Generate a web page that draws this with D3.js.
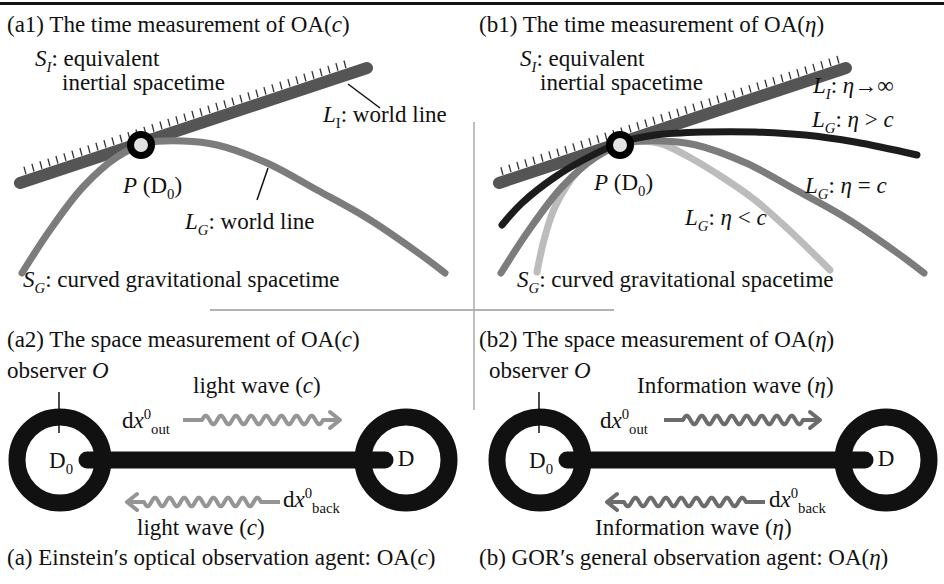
<!DOCTYPE html>
<html>
<head>
<meta charset="utf-8">
<script src="https://cdn.jsdelivr.net/npm/d3@7"></script>
<style>
  html, body { margin: 0; padding: 0; background: #fff; }
  svg { display: block; }
</style>
</head>
<body>
<svg width="944" height="584"></svg>
<script>
// world lines, relative to the event P (x right = space, y up = time)
var inertialLine = [[-121, -38], [226, 77]];
var worldLineC = [[-119, -128], [-91, -85], [-58, -42], [-24, -12], [6, 2], [42, 4], [76, 0],
                  [126, -18], [176, -45], [226, -73], [276, -107], [304, -128]];
var worldLineFast = [[-118, -80], [-98, -58], [-65, -32], [-31, -12], [2, 3], [35, 10], [85, 13],
                     [135, 13], [185, 10], [235, 3], [297, -10]];
var worldLineSlow = [[-83, -127], [-76, -95], [-65, -62], [-41, -25], [-15, -5], [12, 3], [39, 2],
                     [69, -12], [102, -32], [135, -55], [169, -85], [210, -125]];
var hatchA = [-113, 214], hatchB = [-115, 222];

var svg = d3.select("svg"),
    width = +svg.attr("width"),
    height = +svg.attr("height");
var serif = "'Liberation Serif', 'Times New Roman', serif",
    fs = 23;

svg.append("rect").attr("width", width).attr("height", height).attr("fill", "#fff");

// frame + dividers
svg.append("line").attr("x1", 0).attr("x2", width).attr("y1", 3.5).attr("y2", 3.5)
    .attr("stroke", "#111").attr("stroke-width", 3);
svg.append("line").attr("x1", 210).attr("x2", 614).attr("y1", 310).attr("y2", 310)
    .attr("stroke", "#999").attr("stroke-width", 1.5);
svg.append("line").attr("x1", 474).attr("x2", 474).attr("y1", 122).attr("y2", 410)
    .attr("stroke", "#aaa").attr("stroke-width", 1.5);

// rich text: parts = {t, i (italic), sub, sup}
function rich(x, y, parts, size, anchor) {
    size = size || fs;
    var t = svg.append("text").attr("x", x).attr("y", y)
        .attr("font-family", serif).attr("font-size", size).attr("fill", "#111")
        .attr("text-anchor", anchor || "start");
    var shift = 0;
    parts.forEach(function (p) {
        if (typeof p === "string") p = {t: p};
        var target = p.sub ? size * 0.26 : p.sup ? -size * 0.38 : 0;
        var s = t.append("tspan").attr("dy", target - shift).text(p.t);
        shift = target;
        if (p.i) s.attr("font-style", "italic");
        if (p.sub || p.sup) s.attr("font-size", size * 0.64);
    });
    return t;
}

function panelScales(px, py) {
    return {
        x: d3.scaleLinear().domain([0, 100]).range([px, px + 100]),
        y: d3.scaleLinear().domain([0, 100]).range([py, py - 100])
    };
}

function timePanel(px, py, curves, hatch) {
    var s = panelScales(px, py);
    var line = d3.line().x(function (d) { return s.x(d[0]); }).y(function (d) { return s.y(d[1]); })
        .curve(d3.curveCatmullRom.alpha(0.5));

    // hatching on the inertial spacetime side
    var a = inertialLine[0], b = inertialLine[1];
    var p0 = [s.x(a[0]), s.y(a[1])], p1 = [s.x(b[0]), s.y(b[1])];
    var len = Math.hypot(p1[0] - p0[0], p1[1] - p0[1]);
    var ux = (p1[0] - p0[0]) / len, uy = (p1[1] - p0[1]) / len;
    var nx = uy, ny = -ux; // normal pointing up-left
    var ticks = d3.range(hatch[0], hatch[1], 8);
    svg.append("g").selectAll("line").data(ticks).enter().append("line")
        .each(function (tx) {
            var t = (tx - a[0]) / (b[0] - a[0]);
            var cx = s.x(tx), cy = s.y(a[1] + t * (b[1] - a[1]));
            d3.select(this)
                .attr("x1", cx + nx * 6.5).attr("y1", cy + ny * 6.5)
                .attr("x2", cx + nx * 14.5 + 0.5).attr("y2", cy + ny * 14.5);
        })
        .attr("stroke", "#333").attr("stroke-width", 1.3);

    svg.append("path").attr("d", line(inertialLine))
        .attr("fill", "none").attr("stroke", "#555").attr("stroke-width", 12)
        .attr("stroke-linecap", "round");

    curves.forEach(function (c) {
        svg.append("path").attr("d", line(c.data))
            .attr("fill", "none").attr("stroke", c.color).attr("stroke-width", 7)
            .attr("stroke-linecap", "round");
    });

    svg.append("circle").attr("cx", s.x(0)).attr("cy", s.y(0)).attr("r", 10.5)
        .attr("fill", "#e2e2e2").attr("stroke", "#000").attr("stroke-width", 7);
    return s;
}

// ---------- (a1)
timePanel(141, 145, [{data: worldLineC, color: "#7c7c7c"}], hatchA);
rich(7, 32, ["(a1) The time measurement of OA(", {t: "c", i: true}, ")"]);
rich(35, 66, [{t: "S", i: true}, {t: "I", i: true, sub: true}, ": equivalent"]);
rich(62, 90, ["inertial spacetime"]);
svg.append("line").attr("x1", 348).attr("y1", 84).attr("x2", 380).attr("y2", 108)
    .attr("stroke", "#111").attr("stroke-width", 1.5);
rich(323, 122, [{t: "L", i: true}, {t: "I", sub: true}, ": world line"]);
svg.append("line").attr("x1", 268).attr("y1", 168).attr("x2", 257).attr("y2", 200)
    .attr("stroke", "#111").attr("stroke-width", 1.5);
rich(185, 229, [{t: "L", i: true}, {t: "G", i: true, sub: true}, ":  world line"]);
rich(123, 193, [{t: "P", i: true}, " (D", {t: "0", sub: true}, ")"]);
rich(23, 287, [{t: "S", i: true}, {t: "G", i: true, sub: true}, ": curved gravitational spacetime"]);

// ---------- (b1)
timePanel(620, 145, [
    {data: worldLineSlow, color: "#bcbcbc"},
    {data: worldLineC, color: "#7c7c7c"},
    {data: worldLineFast, color: "#1c1c1c"}
], hatchB);
rich(479, 32, ["(b1) The time measurement of OA(", {t: "η", i: true}, ")"]);
rich(520, 66, [{t: "S", i: true}, {t: "I", i: true, sub: true}, ": equivalent"]);
rich(540, 90, ["inertial spacetime"]);
rich(813, 93, [{t: "L", i: true}, {t: "I", i: true, sub: true}, ":  ", {t: "η", i: true}, "→∞"]);
rich(812, 127, [{t: "L", i: true}, {t: "G", i: true, sub: true}, ":  ", {t: "η", i: true}, " > ", {t: "c", i: true}]);
rich(805, 193, [{t: "L", i: true}, {t: "G", i: true, sub: true}, ":   ", {t: "η", i: true}, " = ", {t: "c", i: true}]);
rich(685, 225, [{t: "L", i: true}, {t: "G", i: true, sub: true}, ":   ", {t: "η", i: true}, " < ", {t: "c", i: true}]);
rich(594, 190, [{t: "P", i: true}, " (D", {t: "0", sub: true}, ")"]);
rich(517, 287, [{t: "S", i: true}, {t: "G", i: true, sub: true}, ": curved gravitational spacetime"]);

// ---------- space measurement panels
function wave(tail, head, y, color) {
    var dir = head > tail ? 1 : -1;
    var straight = 19, headLen = 17, periods = 8;
    var w0 = tail + dir * straight, w1 = head - dir * headLen;
    var amp = 4.3, n = 200;
    var pts = [[tail, y], [w0, y]];
    d3.range(n + 1).forEach(function (i) {
        var f = i / n;
        pts.push([w0 + (w1 - w0) * f, y - amp * Math.sin(f * periods * 2 * Math.PI)]);
    });
    pts.push([head, y]);
    var g = svg.append("g");
    g.append("path").attr("d", d3.line()(pts)).attr("fill", "none")
        .attr("stroke", color).attr("stroke-width", 4).attr("stroke-linejoin", "round");
    g.append("path").attr("d", d3.line()([[head - dir * 10, y - 8], [head, y], [head - dir * 10, y + 8]]))
        .attr("fill", "none").attr("stroke", color).attr("stroke-width", 4)
        .attr("stroke-linecap", "round").attr("stroke-linejoin", "round");
}

function spacePanel(ox, waveColor, topWave, botWave) {
    var cy = 460, lx = ox + 60, rx = ox + 406;
    svg.append("line").attr("x1", lx + 27).attr("x2", rx - 21).attr("y1", cy).attr("y2", cy)
        .attr("stroke", "#111").attr("stroke-width", 17).attr("stroke-linecap", "round");
    [lx, rx].forEach(function (cx) {
        svg.append("circle").attr("cx", cx).attr("cy", cy).attr("r", 43)
            .attr("fill", "none").attr("stroke", "#111").attr("stroke-width", 17);
    });
    svg.append("line").attr("x1", lx - 1).attr("x2", lx - 1).attr("y1", 392).attr("y2", 433)
        .attr("stroke", "#111").attr("stroke-width", 1.5);
    rich(lx + 1, 468, ["D", {t: "0", sub: true}], fs, "middle");
    rich(rx, 466, ["D"], fs, "middle");
    wave(topWave[0], topWave[1], 420, waveColor);
    wave(botWave[0], botWave[1], 502, waveColor);
}

spacePanel(0, "#959595", [183, 340], [280, 127]);
rich(7, 347, ["(a2) The space measurement of OA(", {t: "c", i: true}, ")"]);
rich(7, 378, ["observer ", {t: "O", i: true}]);
rich(193, 393, ["light wave  (", {t: "c", i: true}, ")"]);
rich(122, 428, ["d", {t: "x", i: true}, {t: "0", sup: true}, {t: "out", sub: true}]);
rich(283, 507, ["d", {t: "x", i: true}, {t: "0", sup: true}, {t: "back", sub: true}]);
rich(137, 535, ["light wave  (", {t: "c", i: true}, ")"]);
rich(7, 565, ["(a) Einstein′s optical observation agent: OA(", {t: "c", i: true}, ")"]);

spacePanel(480, "#6c6c6c", [664, 820], [765, 607]);
rich(479, 347, ["(b2) The space measurement of  OA(", {t: "η", i: true}, ")"]);
rich(489, 378, ["observer ", {t: "O", i: true}]);
rich(637, 393, ["Information wave  (", {t: "η", i: true}, ")"]);
rich(600, 428, ["d", {t: "x", i: true}, {t: "0", sup: true}, {t: "out", sub: true}]);
rich(769, 507, ["d", {t: "x", i: true}, {t: "0", sup: true}, {t: "back", sub: true}]);
rich(595, 535, ["Information wave  (", {t: "η", i: true}, ")"]);
rich(479, 565, ["(b) GOR′s general observation agent: OA(", {t: "η", i: true}, ")"]);
</script>
</body>
</html>
